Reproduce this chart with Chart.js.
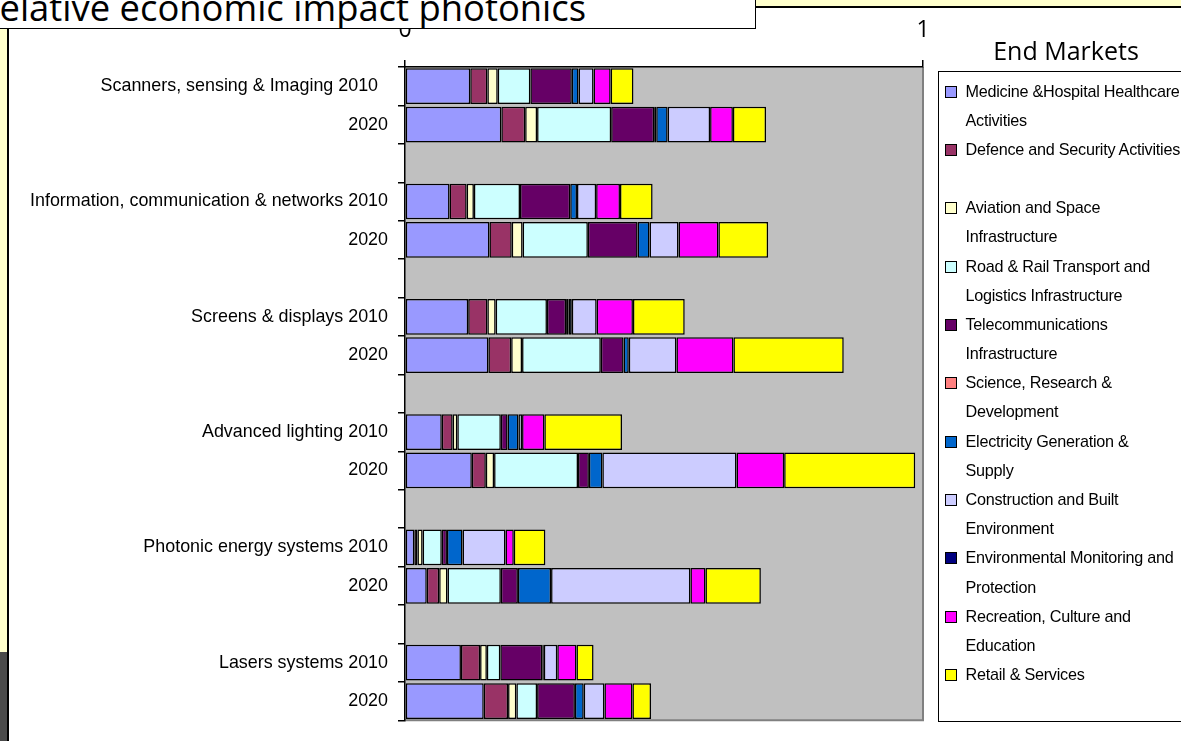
<!DOCTYPE html>
<html>
<head>
<meta charset="utf-8">
<script src="https://cdn.jsdelivr.net/npm/chart.js@4.4.1/dist/chart.umd.min.js"></script>
<style>
  html, body { margin:0; padding:0; background:#fff; }
  body { width:1181px; height:741px; overflow:hidden; position:relative; }
  #wrap { position:absolute; left:0; top:0; width:1181px; height:741px; }
  #titlebox { position:absolute; left:-2px; top:-2px; width:756px; height:29px; border:1.5px solid #000; background:#fff; overflow:hidden; z-index:5; }
  #titlebox span { position:absolute; left:-22px; top:-10px; font-family:"Open Sans", sans-serif; font-size:36.4px; line-height:36px; white-space:nowrap; color:#000; }
  #topband { position:absolute; left:755px; top:0; width:430px; height:6px; background:#FFFFCC; border-bottom:2px solid #000; z-index:4; }
  #stripY { position:absolute; left:0; top:28px; width:7px; height:624px; background:#FFFFCC; }
  #stripG { position:absolute; left:0; top:652px; width:7px; height:89px; background:#4a4a4a; }
  #stripL { position:absolute; left:7px; top:28px; width:2px; height:713px; background:#000; }
  #endm { position:absolute; left:938px; top:38px; width:256px; text-align:center; font-family:"Open Sans", sans-serif; font-size:25px; line-height:25px; color:#000; white-space:nowrap; }
  #legend { position:absolute; left:938px; top:71px; width:270px; height:651px; border:1.5px solid #000; background:#fff; box-sizing:border-box; padding-top:4.6px; }
  .item { position:relative; padding-left:26.5px; font-family:"Liberation Sans", Arial, sans-serif; font-size:16.2px; line-height:29.17px; white-space:pre; color:#000; letter-spacing:-0.25px; }
  .mk { position:absolute; left:5.5px; top:9px; width:10px; height:10px; border:1px solid #000; }
</style>
</head>
<body>
<div id="wrap"><canvas id="c" width="1181" height="741"></canvas></div>
<div id="stripY"></div><div id="stripG"></div><div id="stripL"></div>
<div id="titlebox"><span>Relative economic impact photonics</span></div>
<div id="topband"></div>
<div id="endm">End Markets</div>
<div id="legend"></div>
<script>
// ---- Data ----
const groupLabels = ["Scanners, sensing & Imaging 2010  ", "Information, communication & networks 2010", "Screens & displays 2010", "Advanced lighting 2010", "Photonic energy systems 2010", "Lasers systems 2010"];
const secondLabel = "2020";
const xTickLabels = ["0", "1"];

const seriesNames = [
  "Medicine &Hospital Healthcare\nActivities",
  "Defence and Security Activities\n ",
  "Aviation and Space\nInfrastructure",
  "Road & Rail Transport and\nLogistics Infrastructure",
  "Telecommunications\nInfrastructure",
  "Science, Research &\nDevelopment",
  "Electricity Generation &\nSupply",
  "Construction and Built\nEnvironment",
  "Environmental Monitoring and\nProtection",
  "Recreation, Culture and\nEducation",
  "Retail & Services"
];
const seriesColors = ["#9999FF", "#993366", "#FFFFCC", "#CCFFFF", "#660066", "#FF8080", "#0066CC", "#CCCCFF", "#000080", "#FF00FF", "#FFFF00"];

// order of bars: Scan10, Scan20, Info10, Info20, Scr10, Scr20, Light10, Light20, Phot10, Phot20, Las10, Las20
const medicine     = [0.126, 0.186, 0.086, 0.163, 0.122, 0.161, 0.071, 0.129, 0.018, 0.042, 0.108, 0.152];
const defence      = [0.033, 0.046, 0.033, 0.043, 0.037, 0.044, 0.021, 0.027, 0.006, 0.024, 0.037, 0.047];
const aviation     = [0.020, 0.023, 0.014, 0.021, 0.016, 0.021, 0.009, 0.016, 0.010, 0.016, 0.013, 0.016];
const roadRail     = [0.063, 0.143, 0.089, 0.126, 0.099, 0.152, 0.084, 0.162, 0.037, 0.103, 0.026, 0.040];
const telecom      = [0.080, 0.083, 0.097, 0.096, 0.037, 0.044, 0.013, 0.021, 0.010, 0.033, 0.081, 0.073];
const science      = [0.000, 0.004, 0.000, 0.000, 0.005, 0.000, 0.000, 0.000, 0.000, 0.000, 0.003, 0.000];
const electricity  = [0.013, 0.022, 0.013, 0.023, 0.006, 0.010, 0.021, 0.026, 0.030, 0.064, 0.000, 0.017];
const construction = [0.029, 0.082, 0.037, 0.056, 0.048, 0.092, 0.007, 0.259, 0.083, 0.269, 0.026, 0.040];
const environment  = [0.000, 0.000, 0.000, 0.000, 0.000, 0.000, 0.000, 0.000, 0.000, 0.000, 0.000, 0.000];
const recreation   = [0.033, 0.044, 0.046, 0.077, 0.070, 0.110, 0.043, 0.092, 0.016, 0.029, 0.037, 0.054];
const retail       = [0.044, 0.064, 0.063, 0.096, 0.100, 0.213, 0.150, 0.253, 0.061, 0.107, 0.033, 0.036];

const seriesValues = [medicine, defence, aviation, roadRail, telecom, science, electricity, construction, environment, recreation, retail];

// ---- Build category rows (2010, 2020, gap) ----
const categories = [];
groupLabels.forEach((g, i) => {
  categories.push(g, secondLabel);
  if (i < groupLabels.length - 1) categories.push("");
});
function withGaps(arr) {
  const out = [];
  for (let i = 0; i < arr.length; i += 2) {
    out.push(arr[i], arr[i + 1]);
    if (i + 2 < arr.length) out.push(null);
  }
  return out;
}

const datasets = seriesValues.map((vals, i) => ({
  label: seriesNames[i].replace(/\n/g, ' ').trim(),
  data: withGaps(vals),
  backgroundColor: seriesColors[i],
  borderColor: "#000",
  borderWidth: 1.5,
  borderSkipped: false,
  categoryPercentage: 0.93,
  barPercentage: 1.0
}));

// ---- HTML legend from series ----
const legendEl = document.getElementById('legend');
seriesNames.forEach((n, i) => {
  const d = document.createElement('div');
  d.className = 'item';
  const m = document.createElement('div');
  m.className = 'mk';
  m.style.background = seriesColors[i];
  d.appendChild(m);
  d.appendChild(document.createTextNode(n));
  legendEl.appendChild(d);
});

const plotBg = {
  id: 'plotBg',
  beforeDraw(chart) {
    const { ctx, chartArea: a } = chart;
    ctx.save();
    ctx.fillStyle = '#C0C0C0';
    ctx.fillRect(a.left, a.top, a.right - a.left, a.bottom - a.top);
    ctx.strokeStyle = '#808080';
    ctx.lineWidth = 2;
    ctx.beginPath();
    ctx.moveTo(a.right, a.top);
    ctx.lineTo(a.right, a.bottom);
    ctx.lineTo(a.left, a.bottom);
    ctx.stroke();
    ctx.restore();
  }
};

new Chart(document.getElementById('c'), {
  type: 'bar',
  data: { labels: categories, datasets },
  options: {
    indexAxis: 'y',
    responsive: false,
    animation: false,
    layout: { padding: { left: 0, top: 0, right: 258, bottom: 8 } },
    plugins: { legend: { display: false }, tooltip: { enabled: false } },
    scales: {
      x: {
        position: 'top',
        stacked: true,
        min: 0, max: 1,
        afterFit(s) { s.height = 67; },
        ticks: {
          stepSize: 1,
          padding: 16,
          color: '#000',
          font: { family: '"Open Sans", sans-serif', size: 23 },
          callback: (v) => (v === 0 ? xTickLabels[0] : v === 1 ? xTickLabels[1] : '')
        },
        grid: { drawOnChartArea: false, drawTicks: true, tickLength: 7, color: '#000', lineWidth: 1.5 },
        border: { color: '#000', width: 1.5 }
      },
      y: {
        stacked: true,
        afterFit(s) { s.width = 405; },
        ticks: {
          padding: 10,
          color: '#000',
          autoSkip: false,
          font: { family: '"Liberation Sans", Arial, sans-serif', size: 17.9 }
        },
        grid: { drawOnChartArea: false, drawTicks: true, tickLength: 7, color: '#000', lineWidth: 1.5 },
        border: { color: '#000', width: 1.5 }
      }
    }
  },
  plugins: [plotBg]
});
</script>
</body>
</html>
